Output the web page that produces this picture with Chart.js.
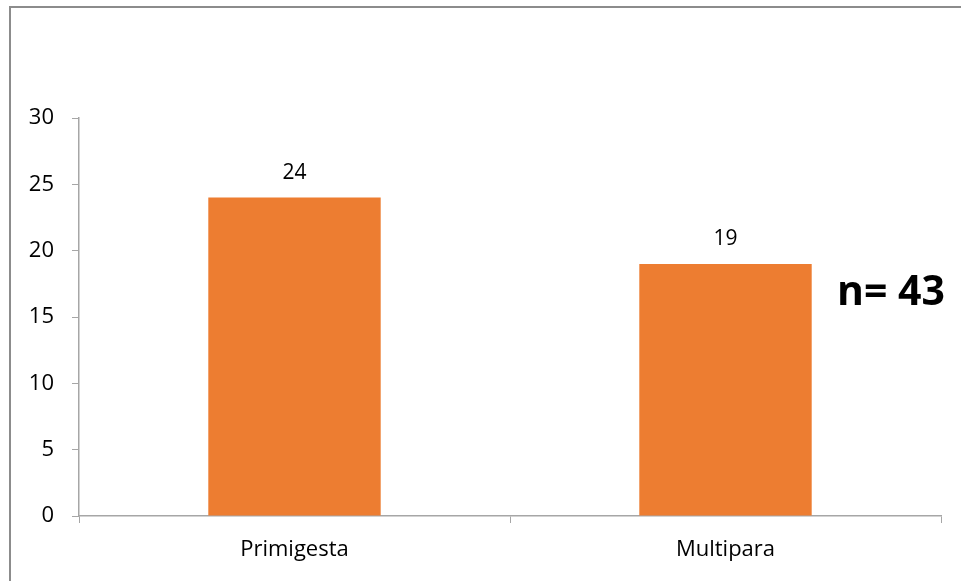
<!DOCTYPE html>
<html>
<head>
<meta charset="utf-8">
<script src="https://cdn.jsdelivr.net/npm/chart.js@4"></script>
<style>
  html, body { margin: 0; padding: 0; background: #fff; overflow: hidden; }
  #frame {
    position: absolute; left: 9px; top: 6px; width: 980px; height: 600px;
    border-left: 2px solid #8c8c8c; border-top: 2px solid #8c8c8c;
  }
  #wrap { position: absolute; left: 0; top: 0; width: 961px; height: 581px; }
</style>
</head>
<body>
<div id="frame"></div>
<div id="wrap"><canvas id="barChart" width="961" height="581"></canvas></div>
<script>
// Categories and counts
const categories = ['Primigesta', 'Multipara'];
const counts = [24, 19];
const yTicks = [0, 5, 10, 15, 20, 25, 30];
const totalLabel = 'n= 43';

const axisColor = '#a6a6a6';
const fontFamily = "'Open Sans', sans-serif";

// Value labels above each bar plus the total in the right margin
const labelPlugin = {
    id: 'barLabels',
    afterDatasetsDraw(chart) {
        const ctx = chart.ctx;
        const meta = chart.getDatasetMeta(0);
        ctx.save();
        ctx.fillStyle = '#000';
        ctx.font = '21px ' + fontFamily;
        ctx.textAlign = 'center';
        ctx.textBaseline = 'bottom';
        meta.data.forEach((bar, i) => {
            ctx.fillText(String(counts[i]), bar.x, bar.y - 14);
        });
        ctx.font = 'bold 41px ' + fontFamily;
        ctx.textAlign = 'left';
        ctx.textBaseline = 'middle';
        const yPos = chart.scales.y.getPixelForValue(16.8);
        ctx.fillText(totalLabel, 837, yPos);
        ctx.restore();
    }
};

new Chart(document.getElementById('barChart').getContext('2d'), {
    type: 'bar',
    data: {
        labels: categories,
        datasets: [{
            data: counts,
            backgroundColor: '#ed7d31',
            barPercentage: 0.4,
            categoryPercentage: 1.0
        }]
    },
    options: {
        responsive: false,
        animation: false,
        layout: { padding: { left: 0, right: 20, top: 118, bottom: 0 } },
        plugins: {
            legend: { display: false },
            tooltip: { enabled: false }
        },
        scales: {
            x: {
                afterFit(scale) { scale.height = 65; },
                grid: {
                    drawOnChartArea: false,
                    drawTicks: true,
                    tickLength: 7,
                    color: axisColor,
                    offset: true
                },
                border: { color: axisColor, width: 1.5 },
                ticks: {
                    color: '#000',
                    font: { family: fontFamily, size: 22 },
                    padding: 14
                }
            },
            y: {
                min: 0,
                max: 30,
                afterFit(scale) { scale.width = 79; },
                afterBuildTicks(scale) {
                    scale.ticks = yTicks.map(v => ({ value: v }));
                },
                grid: {
                    drawOnChartArea: false,
                    drawTicks: true,
                    tickLength: 7,
                    color: axisColor
                },
                border: { color: axisColor, width: 1.5 },
                ticks: {
                    color: '#000',
                    font: { family: fontFamily, size: 22 },
                    padding: 18
                }
            }
        }
    },
    plugins: [labelPlugin]
});
</script>
</body>
</html>
